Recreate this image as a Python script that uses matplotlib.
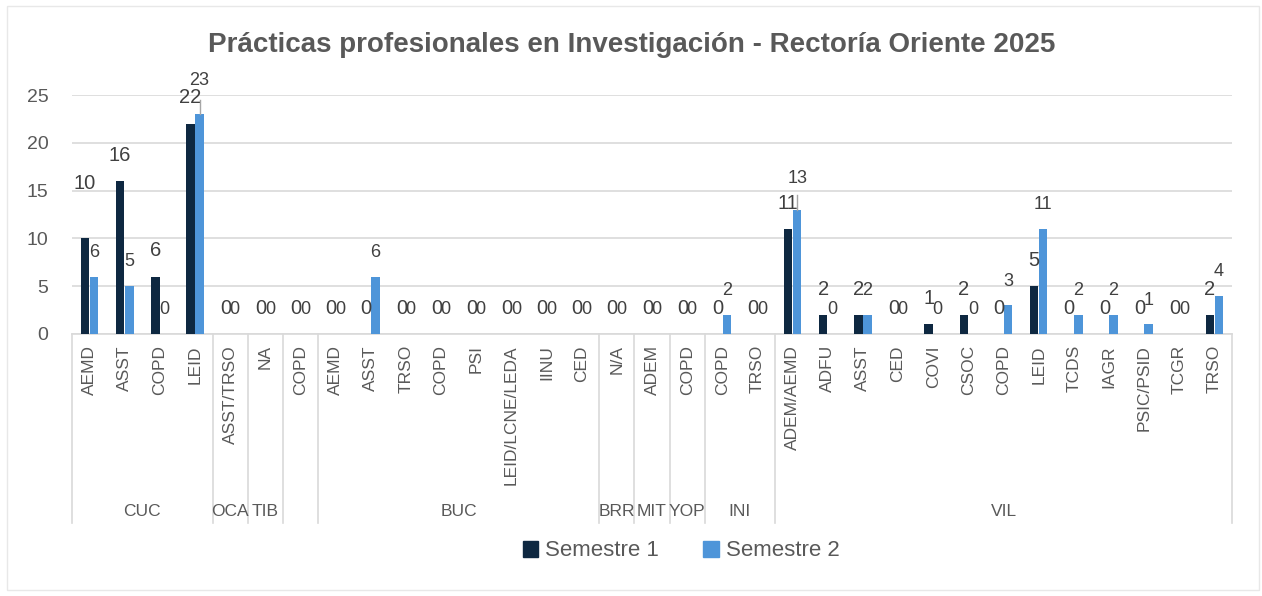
import matplotlib
matplotlib.use("Agg")
import matplotlib.pyplot as plt
from matplotlib.patches import Patch, Rectangle
import numpy as np

# ---- data ----
categories = ["AEMD", "ASST", "COPD", "LEID",
              "ASST/TRSO",
              "NA",
              "COPD",
              "AEMD", "ASST", "TRSO", "COPD", "PSI", "LEID/LCNE/LEDA", "IINU", "CED",
              "N/A",
              "ADEM",
              "COPD",
              "COPD", "TRSO",
              "ADEM/AEMD", "ADFU", "ASST", "CED", "COVI", "CSOC", "COPD", "LEID",
              "TCDS", "IAGR", "PSIC/PSID", "TCGR", "TRSO"]
group_names = ["CUC", "OCA", "TIB", "", "BUC", "BRR", "MIT", "YOP", "INI", "VIL"]
group_sizes = [4, 1, 1, 1, 8, 1, 1, 1, 2, 13]
semestre1 = [10, 16, 6, 22,
             0,
             0,
             0,
             0, 0, 0, 0, 0, 0, 0, 0,
             0,
             0,
             0,
             0, 0,
             11, 2, 2, 0, 1, 2, 0, 5, 0, 0, 0, 0, 2]
semestre2 = [6, 5, 0, 23,
             0,
             0,
             0,
             0, 6, 0, 0, 0, 0, 0, 0,
             0,
             0,
             0,
             2, 0,
             13, 0, 2, 0, 0, 0, 3, 11, 2, 2, 1, 0, 4]
series_names = ["Semestre 1", "Semestre 2"]
title = "Prácticas profesionales en Investigación - Rectoría Oriente 2025"

# ---- style ----
c1 = "#0E2841"
c2 = "#4E95D9"
txt = "#595959"
lbl = "#404040"
grid = "#D9D9D9"
plt.rcParams['font.family'] = ['Liberation Sans', 'DejaVu Sans']

W, H = 1262, 596
fig = plt.figure(figsize=(W / 100, H / 100), dpi=100)
fig.patch.set_facecolor("white")
fig.add_artist(Rectangle((7 / W, 6 / H), 1252 / W, 584 / H, transform=fig.transFigure,
                         fill=False, edgecolor="#E8E8E8", lw=1))

left, right, top, bottom = 72, 1232, 95, 334
ax = fig.add_axes([left / W, 1 - bottom / H, (right - left) / W, (bottom - top) / H])

n = len(categories)
x = np.arange(n)
bw = 0.24
off = 0.13
ax.bar(x - off, semestre1, bw, color=c1, zorder=3)
ax.bar(x + off, semestre2, bw, color=c2, zorder=3)

ax.set_xlim(-0.5, n - 0.5)
ax.set_ylim(0, 25)
ax.set_yticks(np.arange(0, 26, 5))
ax.yaxis.grid(True, color=grid, lw=1.2, zorder=0)
ax.set_axisbelow(True)
for s in ["top", "right", "left"]:
    ax.spines[s].set_visible(False)
ax.spines["bottom"].set_color(grid)
ax.spines["bottom"].set_linewidth(1.2)
ax.tick_params(axis="y", length=0, pad=17, labelsize=14, labelcolor=txt)
ax.set_xticks(x)
ax.set_xticklabels(categories, rotation=90, fontsize=12.5, color=txt)
ax.tick_params(axis="x", length=0, pad=8)

# data labels
extra1 = {0: 21}   # extra raise (pt) for crowded labels
extra2 = {3: 7, 20: 5}
leader2 = {3, 20}
for i in range(n):
    v1, v2 = semestre1[i], semestre2[i]
    ax.annotate(str(v1), (x[i] - off, v1), xytext=(0, 18.5 + extra1.get(i, 0)),
                textcoords="offset points", ha="center", va="center",
                fontsize=14.5, color=lbl, annotation_clip=False)
    ax.annotate(str(v2), (x[i] + off, v2), xytext=(0, 17.5 + extra2.get(i, 0)),
                textcoords="offset points", ha="center", va="center",
                fontsize=13, color=lbl, annotation_clip=False)
    if i in leader2:
        ax.plot([x[i] + off, x[i] + off], [v2, v2 + 1.5], color="#A6A6A6",
                lw=1, clip_on=False, zorder=4)

# multi-level category axis
trans = ax.get_xaxis_transform()
ybot = -(523 - bottom) / (bottom - top)
ylab = -(511 - bottom) / (bottom - top)
pos = -0.5
ax.plot([pos, pos], [0, ybot], transform=trans, color=grid, lw=1.2, clip_on=False)
for name, size in zip(group_names, group_sizes):
    ax.text(pos + size / 2, ylab, name, transform=trans, ha="center", va="center",
            fontsize=12.5, color=txt)
    pos += size
    ax.plot([pos, pos], [0, ybot], transform=trans, color=grid, lw=1.2, clip_on=False)

fig.text(632 / W, 1 - 45 / H, title, ha="center", va="center", fontsize=20,
         fontweight="bold", color=txt)

handles = [Patch(color=c1), Patch(color=c2)]
fig.legend(handles, series_names, loc="center", bbox_to_anchor=(681 / W, 1 - 551 / H),
           ncol=2, frameon=False, fontsize=16, labelcolor=txt,
           handlelength=0.7, handleheight=0.7, handletextpad=0.3, columnspacing=2.0)

fig.savefig("out.png", dpi=100)
